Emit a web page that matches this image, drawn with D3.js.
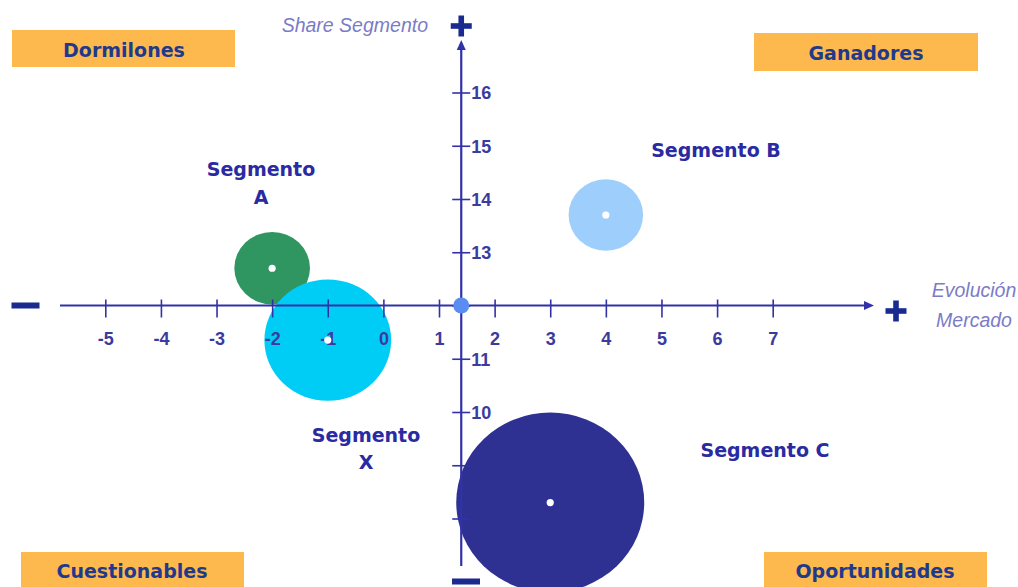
<!DOCTYPE html>
<html>
<head>
<meta charset="utf-8">
<script src="https://cdn.jsdelivr.net/npm/d3@7"></script>
<style>
  html, body { margin: 0; padding: 0; background: #ffffff; }
  svg { display: block; }
</style>
</head>
<body>
<svg id="chart" width="1018" height="587"></svg>
<script>
// ---- Data ----
const segmentos = ["Segmento A", "Segmento B", "Segmento C", "Segmento X"];
const evolucionMercado = [-2, 4, 3, -1];
const shareSegmento = [12.7, 13.7, 8.3, 11.35];
const tamano = [0.68, 0.67, 1.69, 1.14];          // bubble radius, in axis units
const xTicks = [-5, -4, -3, -2, -1, 0, 1, 2, 3, 4, 5, 6, 7];
const yTicks = [8, 9, 10, 11, 12, 13, 14, 15, 16];
const yTicksConEtiqueta = [10, 11, 13, 14, 15, 16];
const cuadrantes = ["Dormilones", "Ganadores", "Cuestionables", "Oportunidades"];
const cruceX = 1.4;   // where the vertical axis crosses
const cruceY = 12;    // where the horizontal axis crosses

// ---- Styles & layout ----
const colores = {
  "Segmento A": "#2f9662",
  "Segmento B": "#9ecefb",
  "Segmento C": "#2e3192",
  "Segmento X": "#00cdf6"
};
const ejeColor = "#3232a8";
const signoColor = "#1b2a8f";
const tickColor = "#3b3b9e";
const tituloColor = "#7b7bc8";
const segColor = "#2a2aa2";
const cuadColor = "#1f3a8c";
const cajaColor = "#fdb94d";
const boldFont = "'DejaVu Sans', Verdana, sans-serif";
const sansFont = "'Liberation Sans', Arial, sans-serif";

const cajas = {
  "Dormilones":    { x: 12,  y: 30,  w: 223, h: 37 },
  "Ganadores":     { x: 754, y: 33,  w: 224, h: 38 },
  "Cuestionables": { x: 21,  y: 552, w: 223, h: 40 },
  "Oportunidades": { x: 764, y: 552, w: 223, h: 40 }
};
const cajaTexto = {
  "Dormilones":    [124, 50],
  "Ganadores":     [866, 53],
  "Cuestionables": [132, 571],
  "Oportunidades": [875, 571]
};
const etiquetas = {
  "Segmento A": { lines: ["Segmento", "A"], x: 261, y: [169, 197] },
  "Segmento B": { lines: ["Segmento B"],    x: 716, y: [150] },
  "Segmento C": { lines: ["Segmento C"],    x: 765, y: [450] },
  "Segmento X": { lines: ["Segmento", "X"], x: 366, y: [435, 462] }
};

const svg = d3.select("#chart");

const x = d3.scaleLinear().domain([-5, 7]).range([105.3, 772.7]);
const y = d3.scaleLinear().domain([8, 16]).range([518.5, 92.5]);
const ox = x(cruceX), oy = y(cruceY);

// ---- Quadrant boxes ----
const gCuad = svg.append("g");
cuadrantes.forEach(name => {
  const b = cajas[name];
  gCuad.append("rect").attr("x", b.x).attr("y", b.y).attr("width", b.w).attr("height", b.h)
    .attr("fill", cajaColor);
  gCuad.append("text").attr("x", cajaTexto[name][0]).attr("y", cajaTexto[name][1])
    .attr("dy", "0.36em").attr("text-anchor", "middle")
    .attr("font-family", boldFont).attr("font-weight", "bold").attr("font-size", 19)
    .attr("fill", cuadColor).text(name);
});

// ---- Bubbles ----
const datos = segmentos.map((s, i) => ({
  nombre: s, ev: evolucionMercado[i], share: shareSegmento[i], r: tamano[i]
}));
svg.append("g").selectAll("ellipse").data(datos).join("ellipse")
  .attr("cx", d => x(d.ev))
  .attr("cy", d => y(d.share))
  .attr("rx", d => x(d.r) - x(0))
  .attr("ry", d => y(8) - y(8 + d.r))
  .attr("fill", d => colores[d.nombre]);

// ---- Horizontal axis ----
const gx = svg.append("g").attr("transform", `translate(0,${oy})`)
  .call(d3.axisBottom(x).tickValues(xTicks).tickFormat(d => String(d)).tickSizeOuter(0));
gx.select(".domain").remove();
gx.selectAll(".tick line").attr("y1", -6).attr("y2", 12).attr("stroke", ejeColor).attr("stroke-width", 1.6);
gx.selectAll(".tick text").attr("y", 33).attr("dy", "0.36em")
  .attr("font-family", sansFont).attr("font-weight", "bold").attr("font-size", 18)
  .attr("fill", tickColor);

svg.append("line").attr("x1", 60).attr("x2", 866).attr("y1", oy).attr("y2", oy)
  .attr("stroke", ejeColor).attr("stroke-width", 2.2);
svg.append("path").attr("d", `M874,${oy} L864,${oy - 4.5} L864,${oy + 4.5} Z`).attr("fill", ejeColor);

// ---- Vertical axis ----
const gy = svg.append("g").attr("transform", `translate(${ox},0)`)
  .call(d3.axisRight(y).tickValues(yTicks)
    .tickFormat(d => yTicksConEtiqueta.includes(d) ? String(d) : "").tickSizeOuter(0));
gy.select(".domain").remove();
gy.selectAll(".tick line").attr("x1", -9).attr("x2", 9).attr("stroke", ejeColor).attr("stroke-width", 1.6);
gy.selectAll(".tick text").attr("x", 10).attr("dy", "0.36em")
  .attr("font-family", sansFont).attr("font-weight", "bold").attr("font-size", 18)
  .attr("fill", tickColor);

svg.append("line").attr("x1", ox).attr("x2", ox).attr("y1", 48).attr("y2", 566)
  .attr("stroke", ejeColor).attr("stroke-width", 2.2);
svg.append("path").attr("d", `M${ox},40 L${ox - 4.5},50 L${ox + 4.5},50 Z`).attr("fill", ejeColor);

// ---- Plus / minus signs at axis ends ----
function mas(cx, cy) {
  svg.append("rect").attr("x", cx - 10.5).attr("y", cy - 2.8).attr("width", 21).attr("height", 5.6).attr("fill", signoColor);
  svg.append("rect").attr("x", cx - 2.8).attr("y", cy - 10.5).attr("width", 5.6).attr("height", 21).attr("fill", signoColor);
}
function menos(cx, cy) {
  svg.append("rect").attr("x", cx - 14).attr("y", cy - 3).attr("width", 28).attr("height", 6).attr("fill", signoColor);
}
mas(ox, 26);
mas(896, 311);
menos(25.5, 305.5);
menos(466, 581.5);

// ---- Axis titles ----
svg.append("text").attr("x", 428).attr("y", 25).attr("dy", "0.36em").attr("text-anchor", "end")
  .attr("font-family", sansFont).attr("font-style", "italic").attr("font-size", 19.5)
  .attr("fill", tituloColor).text("Share Segmento");
svg.append("text").attr("x", 974).attr("y", 290).attr("dy", "0.36em").attr("text-anchor", "middle")
  .attr("font-family", sansFont).attr("font-style", "italic").attr("font-size", 19.5)
  .attr("fill", tituloColor).text("Evolución");
svg.append("text").attr("x", 974).attr("y", 320).attr("dy", "0.36em").attr("text-anchor", "middle")
  .attr("font-family", sansFont).attr("font-style", "italic").attr("font-size", 19.5)
  .attr("fill", tituloColor).text("Mercado");

// ---- Origin marker ----
svg.append("circle").attr("cx", ox).attr("cy", oy).attr("r", 8).attr("fill", "#5b8cf2");

// ---- Bubble centres ----
svg.append("g").selectAll("circle").data(datos).join("circle")
  .attr("cx", d => x(d.ev)).attr("cy", d => y(d.share)).attr("r", 3.6).attr("fill", "#ffffff");

// ---- Segment labels ----
datos.forEach(d => {
  const e = etiquetas[d.nombre];
  e.lines.forEach((t, i) => {
    svg.append("text").attr("x", e.x).attr("y", e.y[i]).attr("dy", "0.36em")
      .attr("text-anchor", "middle")
      .attr("font-family", boldFont).attr("font-weight", "bold").attr("font-size", 19)
      .attr("fill", segColor).text(t);
  });
});
</script>
</body>
</html>
